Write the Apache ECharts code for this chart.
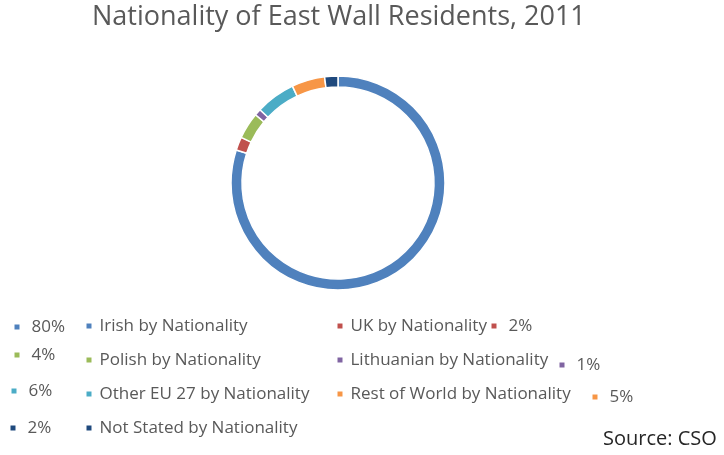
<!DOCTYPE html>
<html>
<head>
<meta charset="utf-8">
<script src="https://cdn.jsdelivr.net/npm/echarts@6/dist/echarts.min.js"></script>
<style>
  html, body { margin: 0; padding: 0; background: #fff; }
  #chart { width: 724px; height: 455px; }
</style>
</head>
<body>
<div id="chart"></div>
<script>
var categories = [
  "Irish by Nationality",
  "UK by Nationality",
  "Polish by Nationality",
  "Lithuanian by Nationality",
  "Other EU 27 by Nationality",
  "Rest of World by Nationality",
  "Not Stated by Nationality"
];
var shares = [80, 2, 4, 1, 6, 5, 2];
var colors = ["#4F81BD", "#C0504D", "#9BBB59", "#8064A2", "#4BACC6", "#F79646", "#1F497D"];

// where Excel dropped each percentage label (marker centre x, row centre y)
var pctPos = [[16, 327], [493, 326], [16, 355], [561, 365], [13, 391], [594, 397], [12, 428]];

var chart = echarts.init(document.getElementById("chart"));
var font = "'Open Sans', sans-serif";

var legends = [{
  data: categories,
  orient: "horizontal",
  left: 84.5,
  top: 314,
  width: 520,
  padding: 0,
  itemWidth: 7,
  itemHeight: 7,
  itemGap: 10,
  icon: "rect",
  textStyle: { color: "#595959", fontSize: 17, fontFamily: font, width: 226, lineHeight: 24, padding: [0, 0, 0, 2] }
}];

categories.forEach(function (name, i) {
  legends.push({
    data: [name],
    left: pctPos[i][0] - 3.5,
    top: pctPos[i][1] - 12,
    padding: 0,
    itemWidth: 7,
    itemHeight: 7,
    icon: "rect",
    formatter: function () { return shares[i] + "%"; },
    textStyle: { color: "#595959", fontSize: 17, fontFamily: font, lineHeight: 24, padding: [0, 0, 0, 6] }
  });
});

var option = {
  color: colors,
  title: [{
    text: "Nationality of East Wall Residents, 2011",
    left: 92,
    top: 4,
    padding: 0,
    textStyle: { color: "#595959", fontSize: 27, fontWeight: "normal", fontFamily: font }
  }, {
    text: "Source: CSO",
    left: 603,
    top: 429,
    padding: 0,
    textStyle: { color: "#262626", fontSize: 20, fontWeight: "normal", fontFamily: font }
  }],
  legend: legends,
  series: [{
    type: "pie",
    center: [338, 183],
    radius: [96, 107],
    startAngle: 90,
    clockwise: true,
    label: { show: false },
    labelLine: { show: false },
    itemStyle: { borderColor: "#fff", borderWidth: 1.5 },
    emphasis: { scale: false },
    data: categories.map(function (name, i) {
      return { name: name, value: shares[i] };
    })
  }]
};

chart.setOption(option);
window.addEventListener("resize", function () {
  chart.resize();
});
</script>
</body>
</html>
